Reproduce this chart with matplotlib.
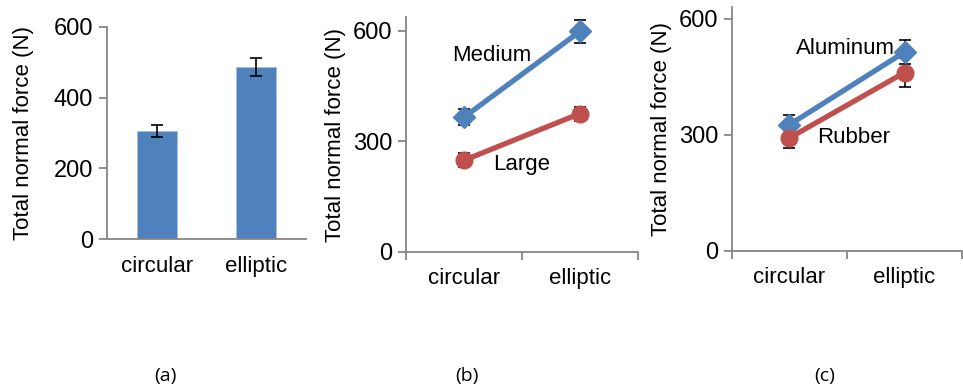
import numpy as np
import matplotlib.pyplot as plt

plt.rcParams['font.family'] = ['Liberation Sans', 'DejaVu Sans']

# Data
categories = ['circular', 'elliptic']

shape_force = [306, 487]
shape_err = [18, 25]

size_names = ['Medium', 'Large']
size_force = [[365, 598], [248, 375]]
size_err = [[22, 32], [19, 19]]

material_names = ['Aluminum', 'Rubber']
material_force = [[326, 514], [292, 461]]
material_err = [[25, 31], [25, 38]]

panel_labels = ['(a)', '(b)', '(c)']

blue = '#4F81BD'
red = '#C0504D'
grey = '#868686'

fig = plt.figure(figsize=(9.63, 3.91), dpi=100)

ax_a = fig.add_axes([0.1111, 0.3887, 0.2067, 0.5423])
ax_b = fig.add_axes([0.4216, 0.3563, 0.2409, 0.5993])
ax_c = fig.add_axes([0.7601, 0.3588, 0.2389, 0.6227])

x = np.arange(len(categories))


def style_axes(ax, ymax, yticks, cat_ticks, labelpad=5):
    for s in ['top', 'right']:
        ax.spines[s].set_visible(False)
    for s in ['left', 'bottom']:
        ax.spines[s].set_color(grey)
        ax.spines[s].set_linewidth(1.3)
    ax.set_xlim(-0.5, 1.5)
    ax.set_ylim(0, ymax)
    ax.set_yticks(yticks)
    ax.set_xticks(x)
    ax.set_xticklabels(categories, fontsize=16)
    ax.tick_params(axis='x', length=0, pad=12)
    ax.tick_params(axis='y', length=6, width=1.3, color=grey,
                   labelsize=17, pad=4)
    if cat_ticks:
        ax.set_xticks([-0.5, 0.5, 1.5], minor=True)
        ax.tick_params(axis='x', which='minor', length=6, width=1.3,
                       color=grey)
    ax.set_ylabel('Total normal force (N)', fontsize=16, labelpad=labelpad)


def draw_lines(ax, values, errors):
    markers = ['D', 'o']
    colors = [blue, red]
    for vals, errs, m, c in zip(values, errors, markers, colors):
        ax.errorbar(x, vals, yerr=errs, fmt='none', ecolor='black',
                    elinewidth=1.2, capsize=4, capthick=1.2, zorder=2)
        ax.plot(x, vals, color=c, lw=3.8, marker=m,
                markersize=11 if m == 'D' else 12, zorder=3)


# (a) bars
ax_a.bar(x, shape_force, width=0.4, color=blue, edgecolor='#A7C0DE',
         linewidth=0.6, zorder=2)
ax_a.errorbar(x, shape_force, yerr=shape_err, fmt='none', ecolor='black',
              elinewidth=1.2, capsize=4, capthick=1.2, zorder=3)
style_axes(ax_a, 600, [0, 200, 400, 600], False, labelpad=14)

# (b) sizes
draw_lines(ax_b, size_force, size_err)
style_axes(ax_b, 636, [0, 300, 600], True)
ax_b.text(0.24, 532, size_names[0], fontsize=16, ha='center', va='center')
ax_b.text(0.5, 236, size_names[1], fontsize=16, ha='center', va='center')

# (c) materials
draw_lines(ax_c, material_force, material_err)
style_axes(ax_c, 630, [0, 300, 600], True)
ax_c.text(0.49, 522, material_names[0], fontsize=16, ha='center', va='center')
ax_c.text(0.56, 292, material_names[1], fontsize=16, ha='center', va='center')

for lbl, xp in zip(panel_labels, [165, 467, 825]):
    fig.text(xp / 963, 1 - 376 / 391, lbl, fontsize=14, ha='center',
             va='center', family=['Open Sans', 'DejaVu Sans'])

fig.savefig('out.png', dpi=100)
